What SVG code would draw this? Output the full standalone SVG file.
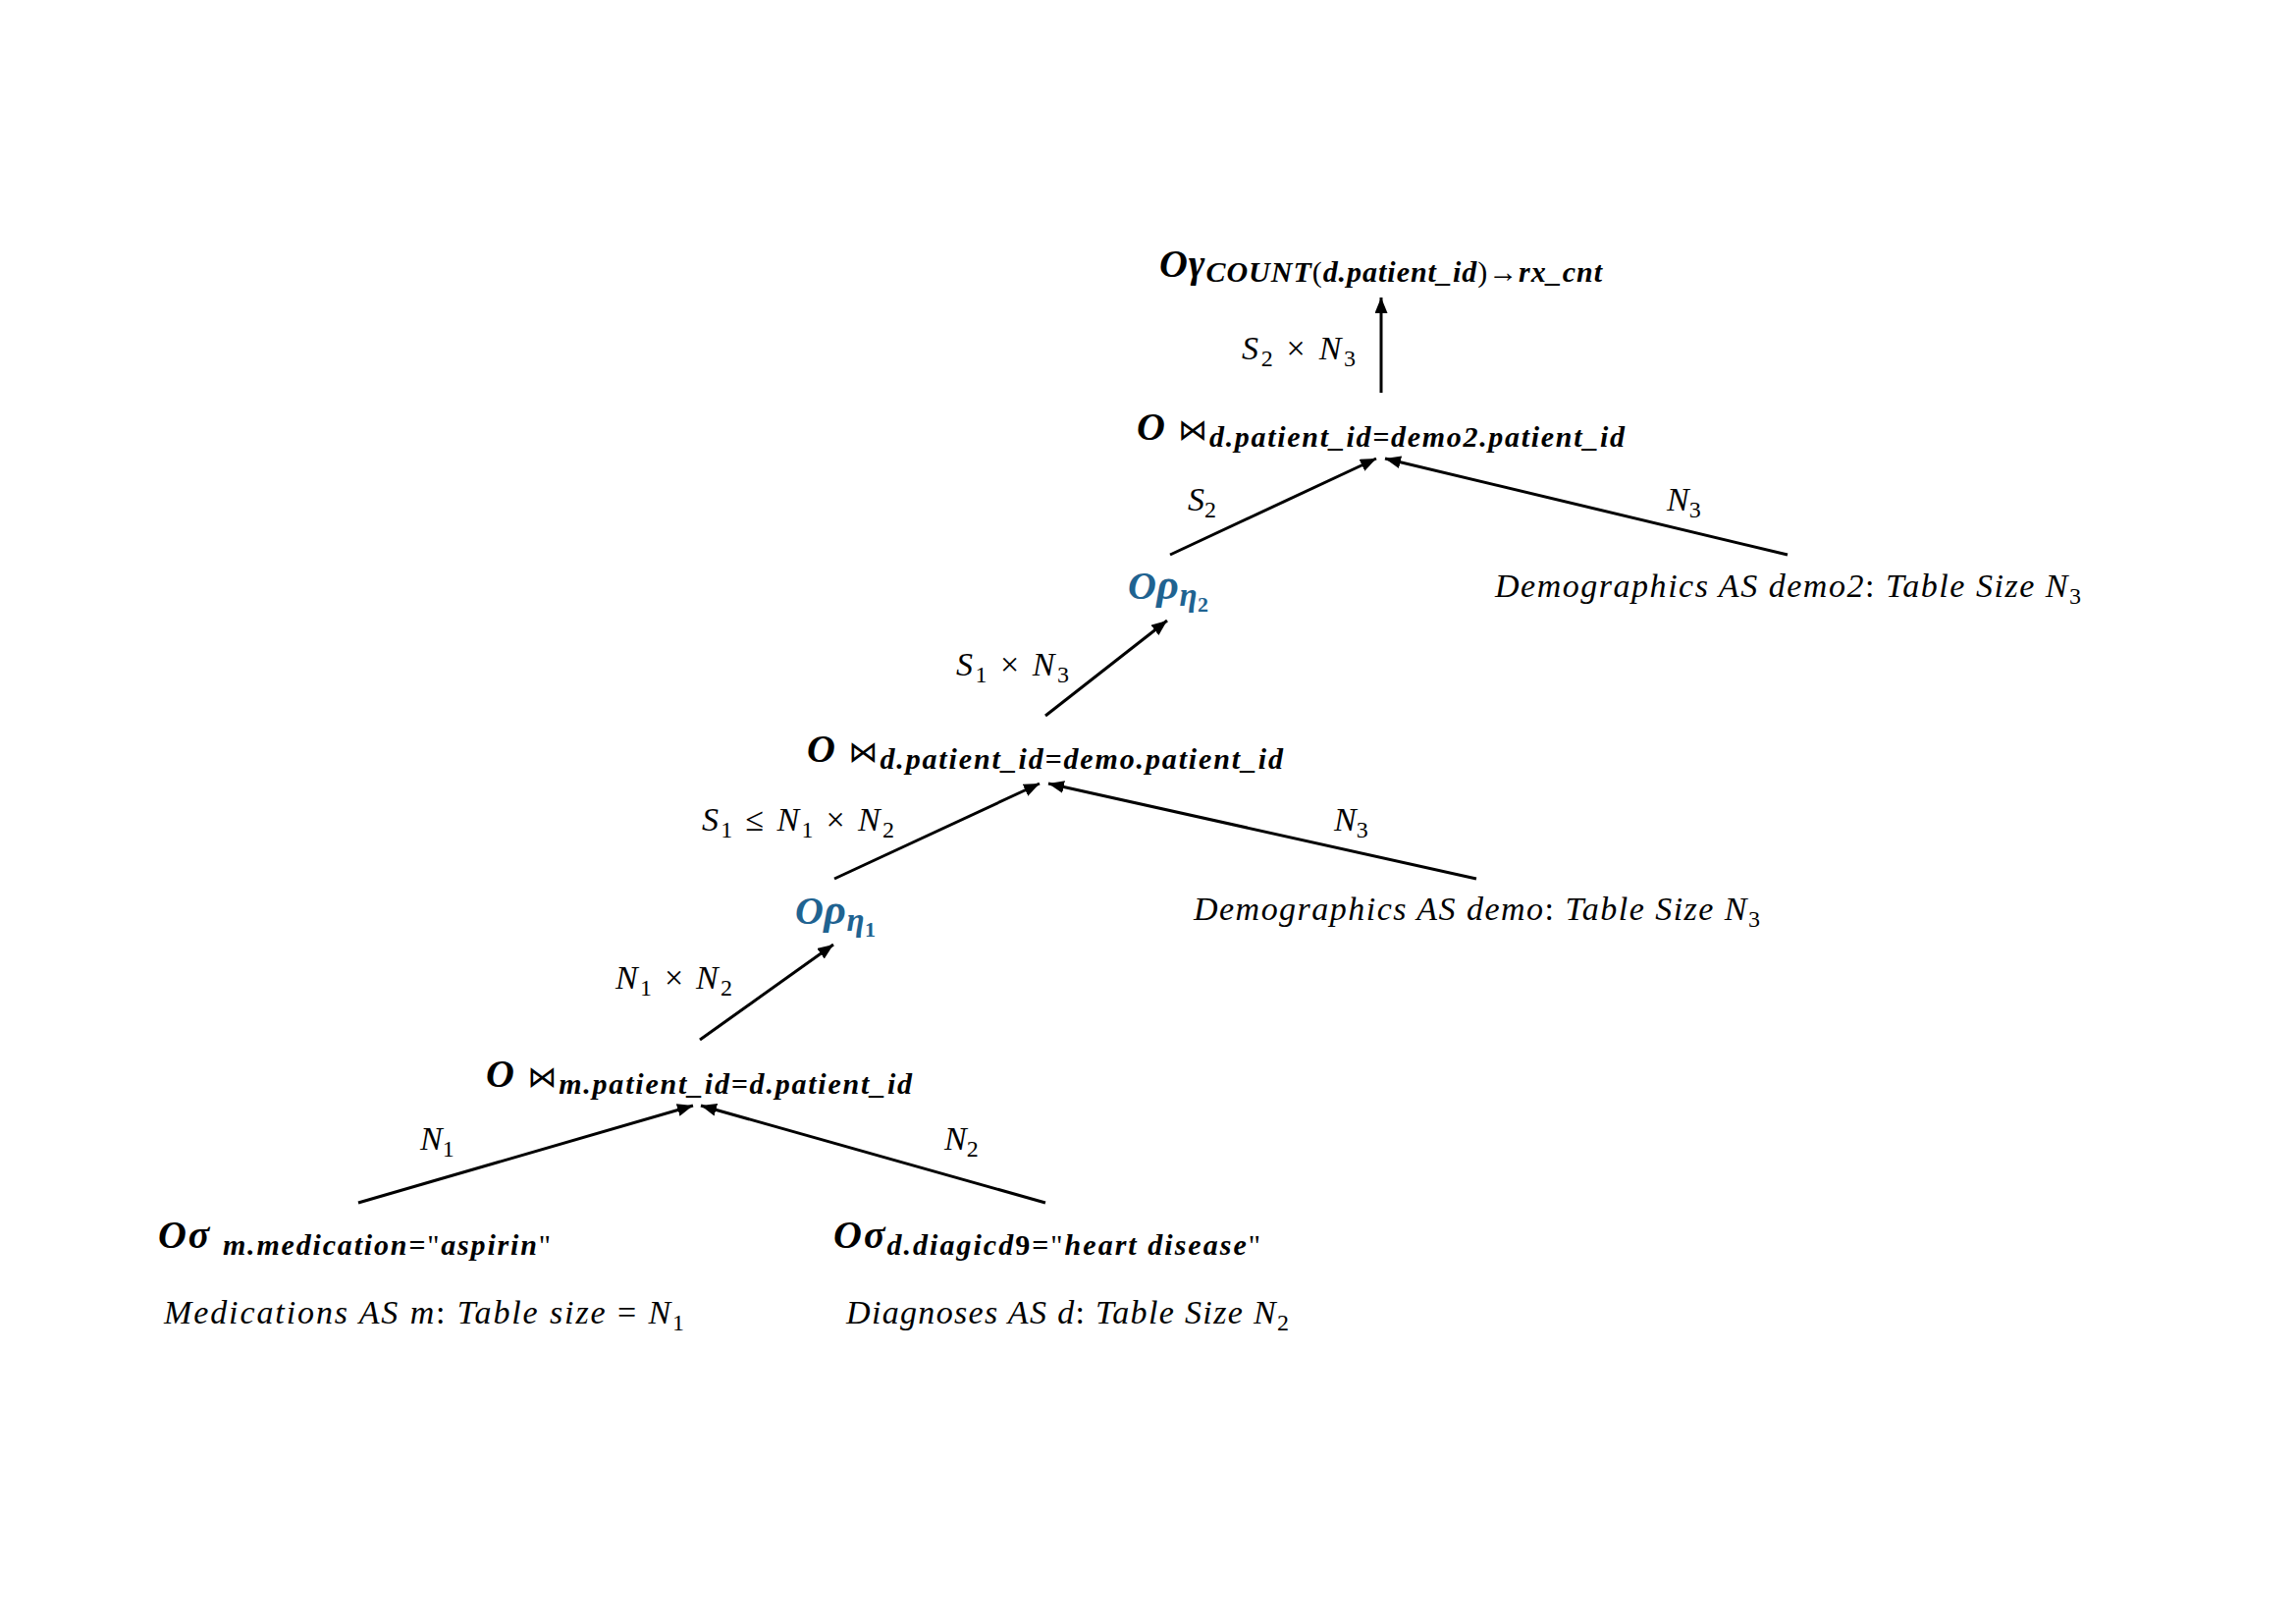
<svg xmlns="http://www.w3.org/2000/svg" width="2339" height="1654" viewBox="0 0 2339 1654">
  <defs>
    <marker id="ah" markerUnits="userSpaceOnUse" markerWidth="18" markerHeight="14" refX="16" refY="6.5" orient="auto">
      <path d="M0,0 L16,6.5 L0,13 Z" fill="#000"/>
    </marker>
    <style>
      text { font-family: "Liberation Serif", "DejaVu Serif", serif; font-style: italic; fill: #000; }
      .lbl { font-size: 34px; }
      .s { font-size: 24px; }
      .big { font-size: 40px; font-weight: bold; }
      .sb { font-size: 30px; font-weight: bold; }
      .rg { font-style: normal; font-weight: normal; }
      .sym { font-family: "DejaVu Sans", sans-serif; font-style: normal; font-weight: normal; font-size: 30px; }
      .rho { fill: #1F6391; }
      .rp { font-size: 44px; font-weight: bold; }
      .eta { font-size: 33px; font-weight: bold; }
      .idx { font-size: 22px; font-weight: bold; font-style: normal; }
      .edge { stroke: #000; stroke-width: 3; fill: none; marker-end: url(#ah); }
    </style>
  </defs>
  <rect width="2339" height="1654" fill="#fff"/>

  <!-- connectors -->
  <g id="edges">
    <line class="edge" x1="1407" y1="400" x2="1407" y2="303"/>
    <line class="edge" x1="1192" y1="565" x2="1402" y2="467"/>
    <line class="edge" x1="1821" y1="565" x2="1411" y2="467"/>
    <line class="edge" x1="1065" y1="729" x2="1189" y2="632"/>
    <line class="edge" x1="850" y1="895" x2="1059" y2="798"/>
    <line class="edge" x1="1504" y1="895" x2="1068" y2="798"/>
    <line class="edge" x1="713" y1="1059" x2="849" y2="962"/>
    <line class="edge" x1="365" y1="1225" x2="706" y2="1126"/>
    <line class="edge" x1="1065" y1="1225" x2="714" y2="1126"/>
  </g>

  <!-- edge labels -->
  <g id="edge-labels">
    <text class="lbl" x="1265" y="366" textLength="116" lengthAdjust="spacing">S<tspan class="s rg" y="373">2</tspan><tspan class="rg" y="366"> ×  </tspan>N<tspan class="s rg" y="373">3</tspan></text>
    <text class="lbl" x="1210" y="520">S<tspan class="s rg" y="527">2</tspan></text>
    <text class="lbl" x="1698" y="520">N<tspan class="s rg" y="527">3</tspan></text>
    <text class="lbl" x="974" y="688" textLength="115" lengthAdjust="spacing">S<tspan class="s rg" y="695">1</tspan><tspan class="rg" y="688"> ×  </tspan>N<tspan class="s rg" y="695">3</tspan></text>
    <text class="lbl" x="715" y="846" textLength="196" lengthAdjust="spacing">S<tspan class="s rg" y="853">1</tspan><tspan class="rg" y="846"> ≤ </tspan>N<tspan class="s rg" y="853">1</tspan><tspan class="rg" y="846"> ×  </tspan>N<tspan class="s rg" y="853">2</tspan></text>
    <text class="lbl" x="1359" y="846">N<tspan class="s rg" y="853">3</tspan></text>
    <text class="lbl" x="627" y="1007" textLength="119" lengthAdjust="spacing">N<tspan class="s rg" y="1014">1</tspan><tspan class="rg" y="1007"> ×  </tspan>N<tspan class="s rg" y="1014">2</tspan></text>
    <text class="lbl" x="428" y="1171">N<tspan class="s rg" y="1178">1</tspan></text>
    <text class="lbl" x="962" y="1171">N<tspan class="s rg" y="1178">2</tspan></text>
  </g>

  <!-- aggregation -->
  <g id="n-agg">
    <text x="1181" y="282" textLength="451" lengthAdjust="spacing"><tspan class="big">Oγ</tspan><tspan class="sb" y="287">COUNT</tspan><tspan class="sb rg" y="287">(</tspan><tspan class="sb" y="287">d.patient_id</tspan><tspan class="sb rg" y="287">)→</tspan><tspan class="sb" y="287">rx_cnt</tspan></text>
  </g>

  <!-- join with demo2 -->
  <g id="n-join2">
    <text x="1158" y="448" textLength="497" lengthAdjust="spacing"><tspan class="big">O </tspan><tspan class="sym">⋈</tspan><tspan class="sb" y="455">d.patient_id=demo2.patient_id</tspan></text>
  </g>

  <!-- rename eta2 -->
  <g id="n-rho2">
    <text class="rho" x="1149" y="610" textLength="82" lengthAdjust="spacing"><tspan class="big">O</tspan><tspan class="rp">ρ</tspan><tspan class="eta" y="617">η</tspan><tspan class="idx" y="623">2</tspan></text>
  </g>

  <!-- demographics table (demo2) -->
  <g id="n-demo2">
    <text class="lbl" x="1523" y="608" textLength="597" lengthAdjust="spacing">Demographics AS demo2<tspan class="rg">:</tspan> Table Size N<tspan class="s rg" y="615">3</tspan></text>
  </g>

  <!-- join with demo -->
  <g id="n-join1">
    <text x="822" y="776" textLength="485" lengthAdjust="spacing"><tspan class="big">O </tspan><tspan class="sym">⋈</tspan><tspan class="sb" y="783">d.patient_id=demo.patient_id</tspan></text>
  </g>

  <!-- rename eta1 -->
  <g id="n-rho1">
    <text class="rho" x="810" y="941" textLength="82" lengthAdjust="spacing"><tspan class="big">O</tspan><tspan class="rp">ρ</tspan><tspan class="eta" y="948">η</tspan><tspan class="idx" y="954">1</tspan></text>
  </g>

  <!-- demographics table (demo) -->
  <g id="n-demo">
    <text class="lbl" x="1216" y="937" textLength="577" lengthAdjust="spacing">Demographics AS demo<tspan class="rg">:</tspan> Table Size N<tspan class="s rg" y="944">3</tspan></text>
  </g>

  <!-- join medications / diagnoses -->
  <g id="n-join0">
    <text x="495" y="1107" textLength="434" lengthAdjust="spacing"><tspan class="big">O </tspan><tspan class="sym">⋈</tspan><tspan class="sb" y="1114">m.patient_id=d.patient_id</tspan></text>
  </g>

  <!-- selection on medications -->
  <g id="n-sel-med">
    <text x="161" y="1271" textLength="400" lengthAdjust="spacing"><tspan class="big">Oσ </tspan><tspan class="sb" y="1278">m.medication=</tspan><tspan class="sb rg" y="1278">"</tspan><tspan class="sb" y="1278">aspirin</tspan><tspan class="sb rg" y="1278">"</tspan></text>
  </g>

  <!-- selection on diagnoses -->
  <g id="n-sel-diag">
    <text x="849" y="1271" textLength="435" lengthAdjust="spacing"><tspan class="big">Oσ</tspan><tspan class="sb" y="1278">d.diagicd</tspan><tspan class="sb" font-style="normal" y="1278">9=</tspan><tspan class="sb rg" y="1278">"</tspan><tspan class="sb" y="1278">heart disease</tspan><tspan class="sb rg" y="1278">"</tspan></text>
  </g>

  <!-- base tables -->
  <g id="n-medications">
    <text class="lbl" x="167" y="1348" textLength="530" lengthAdjust="spacing">Medications AS m<tspan class="rg">:</tspan> Table size <tspan class="rg">=</tspan>  N<tspan class="s rg" y="1355">1</tspan></text>
  </g>
  <g id="n-diagnoses">
    <text class="lbl" x="862" y="1348" textLength="451" lengthAdjust="spacing">Diagnoses AS d<tspan class="rg">:</tspan> Table Size N<tspan class="s rg" y="1355">2</tspan></text>
  </g>
</svg>
